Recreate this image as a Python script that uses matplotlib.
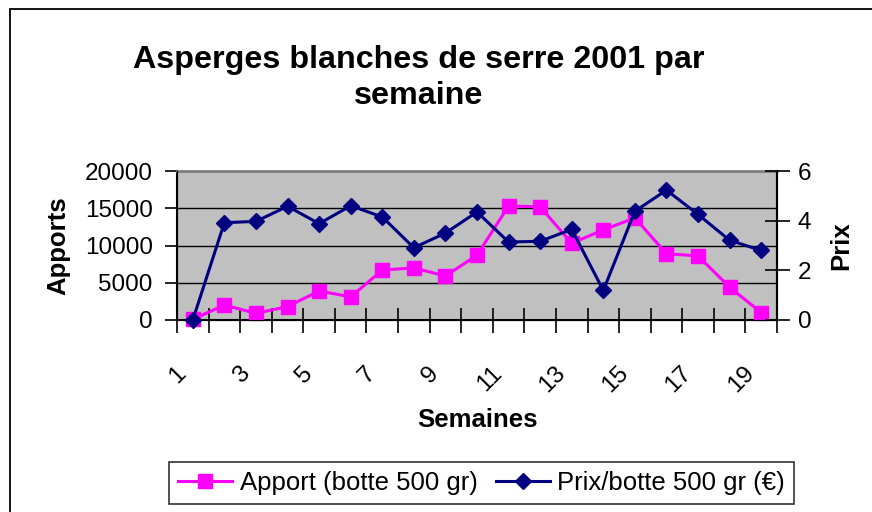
import matplotlib
matplotlib.use("Agg")
import matplotlib.pyplot as plt
from matplotlib.patches import Rectangle
from matplotlib.ticker import MultipleLocator
from matplotlib.transforms import ScaledTranslation

plt.rcParams['font.family'] = ['Liberation Sans', 'DejaVu Sans']

semaines = list(range(1, 20))
apport = [100, 2000, 900, 1800, 3900, 3100, 6700, 7000, 5900, 8700,
          15300, 15200, 10300, 12100, 13700, 8900, 8600, 4400, 1000]
prix = [0.0, 3.92, 3.97, 4.58, 3.88, 4.60, 4.15, 2.91, 3.50, 4.35,
        3.14, 3.17, 3.65, 1.19, 4.38, 5.23, 4.25, 3.21, 2.80]
xtick_labels = [str(s) for s in semaines[::2]]

W, H = 872, 512
fig = plt.figure(figsize=(W / 100, H / 100), dpi=100)
fig.patch.set_facecolor('white')

# chart border
fig.patches.append(Rectangle((10 / W, -0.1), 1.0, 1 - 9 / H + 0.1,
                             transform=fig.transFigure, fill=False,
                             ec='black', lw=1.3))

ax = fig.add_axes([177 / W, 1 - 320 / H, 600 / W, 149 / H])
ax.set_facecolor('#C0C0C0')

l1, = ax.plot(semaines, apport, color='#FF00FF', lw=2.2, marker='s',
              markersize=10.5, markerfacecolor='#FF00FF',
              markeredgecolor='#FF00FF', label='Apport (botte 500 gr)',
              zorder=3, clip_on=False)
ax.set_xlim(0.5, 19.5)
ax.set_ylim(0, 20000)
ax.set_yticks([0, 5000, 10000, 15000, 20000])
ax.yaxis.grid(True, color='black', lw=1)
ax.set_axisbelow(True)

ax.set_xticks(semaines[::2])
ax.set_xticklabels(xtick_labels, rotation=45, ha='right', va='center',
                   rotation_mode='anchor', fontsize=17.5)
ax.tick_params(axis='x', which='major', length=0, pad=36)
for lab in ax.get_xticklabels():
    lab.set_transform(lab.get_transform() +
                      ScaledTranslation(-0.10, 0, fig.dpi_scale_trans))
ax.xaxis.set_minor_locator(MultipleLocator(1, offset=0.5))
ax.tick_params(axis='x', which='minor', direction='inout', length=18,
               width=1.2, color='black')
ax.tick_params(axis='y', direction='out', length=9, width=1.2,
               labelsize=17.5, pad=8.5)

for s in ['left', 'bottom', 'right']:
    ax.spines[s].set_color('black')
    ax.spines[s].set_linewidth(1.5)
ax.spines['top'].set_color('#808080')
ax.spines['top'].set_linewidth(2)

ax.set_ylabel('Apports', fontsize=18.5, fontweight='bold', labelpad=10)
ax.set_xlabel('Semaines', fontsize=18.5, fontweight='bold', labelpad=8)

ax2 = ax.twinx()
l2, = ax2.plot(semaines, prix, color='#000080', lw=2.2, marker='D',
               markersize=8.2, markerfacecolor='#000080',
               markeredgecolor='#000080', label='Prix/botte 500 gr (€)',
               zorder=4, clip_on=False)
ax2.set_ylim(0, 6)
ax2.set_yticks([0, 2, 4, 6])
ax2.tick_params(axis='y', direction='inout', length=18, width=1.2,
                labelsize=17.5, pad=6)
ax2.spines['right'].set_color('black')
ax2.spines['right'].set_linewidth(1.5)
ax2.spines['top'].set_visible(False)
ax2.set_ylabel('Prix', fontsize=18.5, fontweight='bold', labelpad=13)

fig.text(419 / W, 1 - 78 / H, 'Asperges blanches de serre 2001 par\nsemaine',
         ha='center', va='center', fontsize=23.2, fontweight='bold',
         linespacing=1.3)

leg = fig.legend(handles=[l1, l2], loc='center',
                 bbox_to_anchor=(481.5 / W, 1 - 483 / H), ncol=2,
                 fontsize=18.5, frameon=True, fancybox=False,
                 edgecolor='black', handlelength=2.1, handletextpad=0.3,
                 columnspacing=0.7, borderpad=0.35, borderaxespad=0)
leg.get_frame().set_linewidth(1.2)

fig.savefig('out.png', dpi=100)
